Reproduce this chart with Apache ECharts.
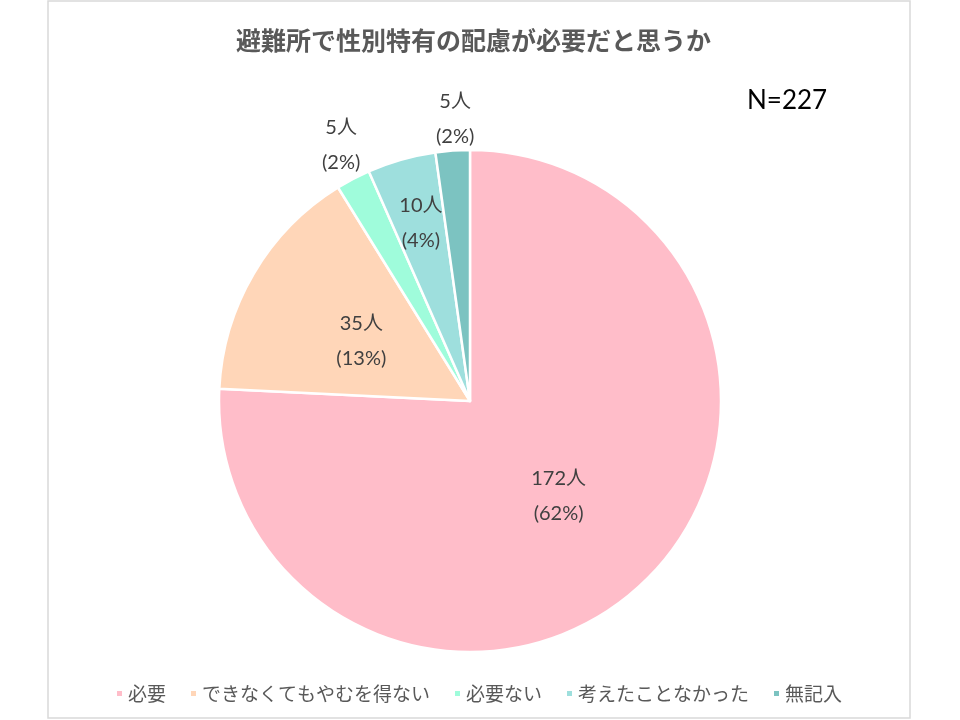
<!DOCTYPE html>
<html><head><meta charset="utf-8">
<script src="https://cdn.jsdelivr.net/npm/echarts@6/dist/echarts.min.js"></script>
<style>html,body{margin:0;padding:0;background:#fff}#c{width:960px;height:720px}</style>
</head><body><div id="c"></div>
<script>
const categories = ['必要', 'できなくてもやむを得ない', '必要ない', '考えたことなかった', '無記入'];
const counts = [172, 35, 5, 10, 5];
const percentLabels = ['62%', '13%', '2%', '4%', '2%'];
const totalN = 227;
const colors = ['#FFBDC9', '#FFD6B8', '#9FFCDB', '#9EDFDD', '#7CC3C1'];
// label nudges (style only), index -> [dx, dy]
const labelShift = {0: [0, 2], 1: [2, 5], 2: [-69, -142], 3: [-14, -54], 4: [-6, -154]};

const FONT = "Lato, 'Noto Sans CJK JP', sans-serif";
const chart = echarts.init(document.getElementById('c'), null, {renderer: 'canvas'});
chart.setOption({
  animation: false,
  backgroundColor: '#ffffff',
  title: {
    text: '避難所で性別特有の配慮が必要だと思うか',
    left: 231, top: 23,
    textStyle: {fontFamily: "'Noto Sans CJK JP', sans-serif", fontSize: 25, fontWeight: 'bold', color: '#595959'}
  },
  graphic: [
    {type: 'rect', shape: {x: 48, y: 1, width: 862, height: 717}, style: {fill: 'none', stroke: '#D9D9D9', lineWidth: 1.5}, silent: true},
    {type: 'text', left: 747, top: 88, style: {text: 'N=' + totalN, font: "26px " + FONT, fill: '#000000'}}
  ],
  legend: {
    top: 679, left: 110,
    itemWidth: 7, itemHeight: 7, itemGap: 23, icon: 'rect',
    textStyle: {fontFamily: "'Noto Sans CJK JP', sans-serif", fontSize: 19, color: '#595959', padding: [0, 0, 0, 0]},
    data: categories
  },
  series: [{
    type: 'pie',
    center: [470, 401],
    radius: [0, 251],
    startAngle: 90,
    clockwise: true,
    avoidLabelOverlap: false,
    itemStyle: {borderColor: '#ffffff', borderWidth: 2.5},
    emphasis: {disabled: true},
    label: {
      show: true, position: 'inside',
      fontFamily: FONT, fontSize: 20, color: '#404040', lineHeight: 35,
      formatter: p => p.value + '人\n(' + percentLabels[p.dataIndex] + ')'
    },
    labelLine: {show: false},
    labelLayout: function (params) {
      const s = labelShift[params.dataIndex];
      return s ? {dx: s[0], dy: s[1]} : {};
    },
    data: categories.map((name, i) => ({name, value: counts[i], itemStyle: {color: colors[i]}}))
  }]
});
</script></body></html>
